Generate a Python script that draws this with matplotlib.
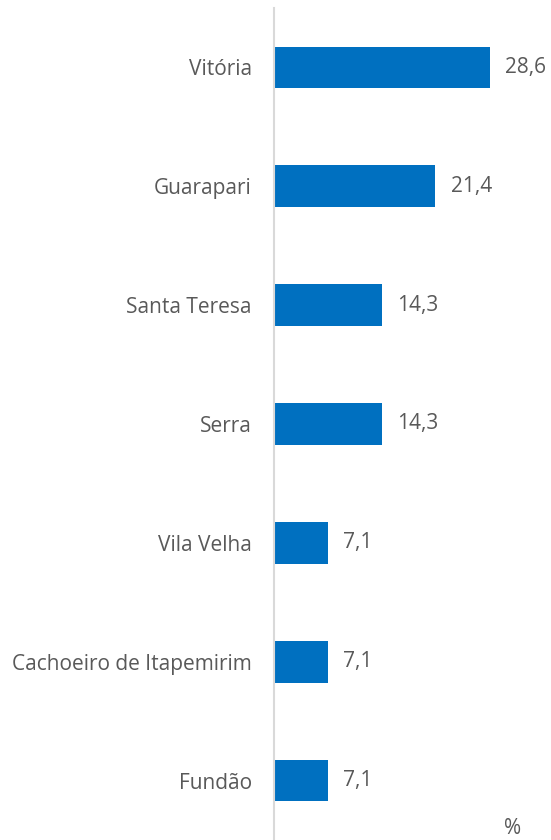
import matplotlib
matplotlib.use('Agg')
import matplotlib.pyplot as plt

cities = ['Vitória', 'Guarapari', 'Santa Teresa', 'Serra', 'Vila Velha',
          'Cachoeiro de Itapemirim', 'Fundão']
values = [28.6, 21.4, 14.3, 14.3, 7.1, 7.1, 7.1]
labels = ['28,6', '21,4', '14,3', '14,3', '7,1', '7,1', '7,1']

text_color = '#595959'
plt.rcParams['font.family'] = ['Open Sans', 'DejaVu Sans']

fig = plt.figure(figsize=(5.51, 8.40), dpi=100)
ax = fig.add_axes([274 / 551, 0.0, 264 / 551, 832 / 840])

y = list(range(len(cities)))
ax.barh(y, values, height=0.35, color='#0070C0')

# data labels to the right of each bar
for yi, v, lab in zip(y, values, labels):
    ax.annotate(lab, (v, yi), xytext=(11, 0), textcoords='offset points',
                va='center', ha='left', fontsize=15, color=text_color)

ax.set_xlim(0, 35)
ax.set_ylim(len(cities) - 0.5, -0.5)
ax.set_yticks(y)
ax.set_yticklabels(cities, fontsize=15, color=text_color)
ax.tick_params(axis='y', length=0, pad=16)
ax.set_xticks([])

for side in ['top', 'right', 'bottom']:
    ax.spines[side].set_visible(False)
ax.spines['left'].set_color('#D9D9D9')
ax.spines['left'].set_linewidth(1.5)

fig.text(513 / 551, 1 - 829 / 840, '%', ha='center', va='center',
         fontsize=15, color=text_color)

fig.savefig('out.png', dpi=100)
